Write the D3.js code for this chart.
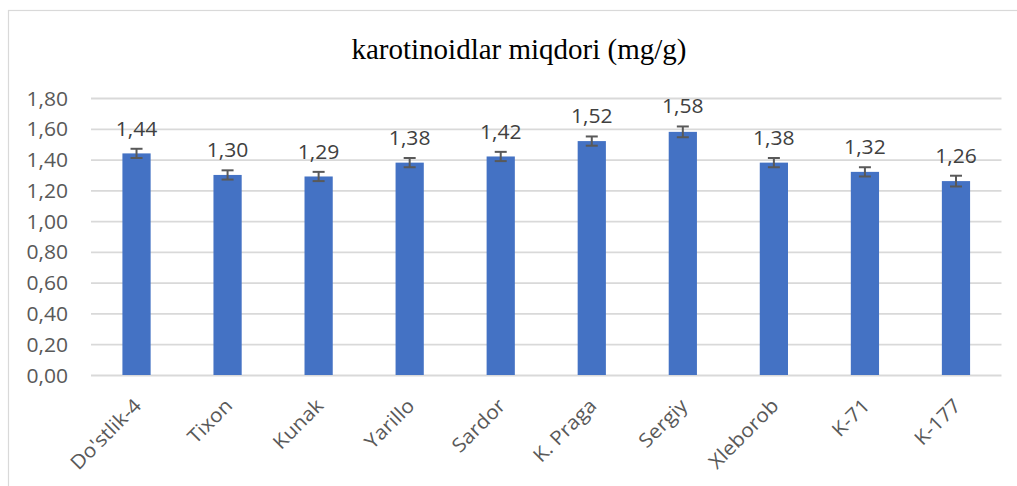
<!DOCTYPE html>
<html>
<head>
<meta charset="utf-8">
<script src="https://cdn.jsdelivr.net/npm/d3@7"></script>
<style>
  body { margin: 0; background: #fff; }
  svg { display: block; }
</style>
</head>
<body>
<svg id="chart" width="1017" height="486"></svg>
<script>
// data
var categories = ["Do'stlik-4", "Tixon", "Kunak", "Yarillo", "Sardor", "K. Praga", "Sergiy", "Xleborob", "K-71", "K-177"];
var values = [1.44, 1.30, 1.29, 1.38, 1.42, 1.52, 1.58, 1.38, 1.32, 1.26];
var errors = [0.03, 0.03, 0.03, 0.03, 0.03, 0.03, 0.035, 0.03, 0.03, 0.035];
var yTicks = [0, 0.2, 0.4, 0.6, 0.8, 1.0, 1.2, 1.4, 1.6, 1.8];
var title = "karotinoidlar miqdori (mg/g)";

var svg = d3.select("#chart"),
  MARGINS = { top: 98, bottom: 375, left: 91, right: 1001.5 },
  STRETCH = 1.08,
  FONT = "19.5px",
  fmt = function (v) { return d3.format(".2f")(v).replace(".", ","); };

var xScale = d3.scaleBand()
  .domain(categories)
  .range([MARGINS.left, MARGINS.right])
  .paddingInner(0.69)
  .paddingOuter(0.345);

var yScale = d3.scaleLinear()
  .domain([0, 1.8])
  .range([MARGINS.bottom, MARGINS.top]);

// widen the sans text a bit, the reference glyphs are broader than Open Sans
function stretch(sel) {
  sel.each(function () {
    var L = this.getComputedTextLength();
    this.setAttribute("textLength", L * STRETCH);
    this.setAttribute("lengthAdjust", "spacingAndGlyphs");
  });
}

// chart frame
svg.append("rect")
  .attr("x", 8.5).attr("y", 10.5)
  .attr("width", 1100).attr("height", 600)
  .attr("fill", "none")
  .attr("stroke", "#d9d9d9")
  .attr("stroke-width", 1.2);

// title
svg.append("text")
  .attr("x", 519).attr("y", 59)
  .attr("text-anchor", "middle")
  .style("font-family", "'Liberation Serif', 'Times New Roman', serif")
  .style("font-size", "29px")
  .style("fill", "#000")
  .text(title);

// gridlines + y labels
var yAxis = d3.axisLeft(yScale)
  .tickValues(yTicks)
  .tickSize(-(MARGINS.right - MARGINS.left))
  .tickPadding(23)
  .tickFormat(fmt);

var gy = svg.append("g")
  .attr("transform", "translate(" + MARGINS.left + ",0)")
  .call(yAxis);
gy.select(".domain").remove();
gy.selectAll(".tick line")
  .attr("stroke", "#d9d9d9")
  .attr("stroke-width", 1.8);
gy.selectAll(".tick text")
  .style("font-family", "'Open Sans', sans-serif")
  .style("font-size", FONT)
  .attr("fill", "#595959")
  .attr("dy", "0.36em")
  .call(stretch);

// x labels
var xAxis = d3.axisBottom(xScale).tickSize(0).tickPadding(0);
var gx = svg.append("g")
  .attr("transform", "translate(0," + MARGINS.bottom + ")")
  .call(xAxis);
gx.select(".domain").remove();
gx.selectAll(".tick text")
  .style("font-family", "'Open Sans', sans-serif")
  .style("font-size", FONT)
  .attr("fill", "#595959")
  .attr("text-anchor", "end")
  .attr("y", 0)
  .attr("dy", "0.36em")
  .attr("transform", "translate(1,27) rotate(-45)")
  .call(stretch);

// bars
svg.append("g").selectAll("rect")
  .data(values)
  .enter().append("rect")
  .attr("x", function (d, i) { return xScale(categories[i]); })
  .attr("y", function (d) { return yScale(d); })
  .attr("width", xScale.bandwidth())
  .attr("height", function (d) { return yScale(0) - yScale(d); })
  .attr("fill", "#4472c4");

// error bars
var eb = svg.append("g")
  .attr("stroke", "#595959")
  .attr("stroke-width", 2)
  .attr("fill", "none");
values.forEach(function (v, i) {
  var cx = xScale(categories[i]) + xScale.bandwidth() / 2,
    hi = yScale(v + errors[i]),
    lo = yScale(v - errors[i]);
  eb.append("line").attr("x1", cx).attr("x2", cx).attr("y1", hi).attr("y2", lo);
  eb.append("line").attr("x1", cx - 6).attr("x2", cx + 6).attr("y1", hi).attr("y2", hi);
  eb.append("line").attr("x1", cx - 6).attr("x2", cx + 6).attr("y1", lo).attr("y2", lo);
});

// value labels
svg.append("g").selectAll("text")
  .data(values)
  .enter().append("text")
  .attr("x", function (d, i) { return xScale(categories[i]) + xScale.bandwidth() / 2; })
  .attr("y", function (d, i) { return yScale(d + errors[i]) - 13; })
  .attr("text-anchor", "middle")
  .style("font-family", "'Open Sans', sans-serif")
  .style("font-size", FONT)
  .attr("fill", "#404040")
  .text(fmt)
  .call(stretch);
</script>
</body>
</html>
